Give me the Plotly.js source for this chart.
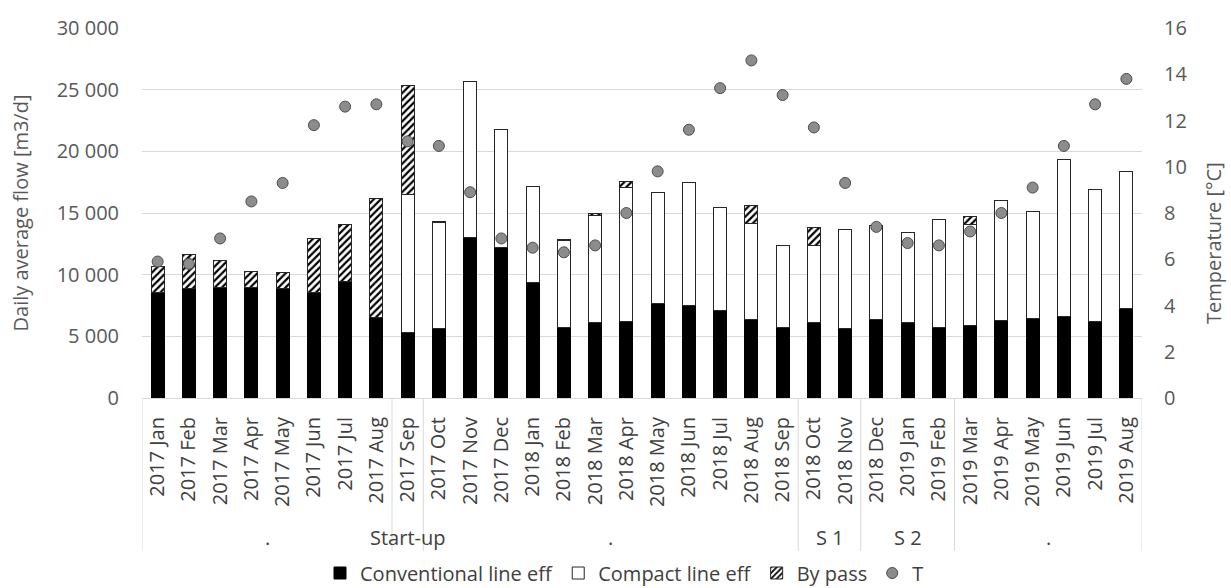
<!DOCTYPE html>
<html>
<head>
<meta charset="utf-8">
<script src="https://cdn.plot.ly/plotly-3.0.1.min.js"></script>
<style>
  html, body { margin: 0; padding: 0; background: #ffffff; }
  #chart { width: 1231px; height: 588px; }
</style>
</head>
<body>
<div id="chart"></div>
<script>
// ---------- DATA ----------
const months = [
  '2017 Jan','2017 Feb','2017 Mar','2017 Apr','2017 May','2017 Jun','2017 Jul','2017 Aug',
  '2017 Sep',
  '2017 Oct','2017 Nov','2017 Dec','2018 Jan','2018 Feb','2018 Mar','2018 Apr','2018 May','2018 Jun','2018 Jul','2018 Aug','2018 Sep',
  '2018 Oct','2018 Nov',
  '2018 Dec','2019 Jan','2019 Feb',
  '2019 Mar','2019 Apr','2019 May','2019 Jun','2019 Jul','2019 Aug'
];
const conventional = [8550, 8850, 9000, 8950, 8900, 8550, 9450, 6500, 5300, 5600, 13050, 12200, 9350, 5750, 6150, 6200, 7700, 7500, 7100, 6400, 5750, 6100, 5600, 6400, 6150, 5750, 5850, 6250, 6450, 6600, 6200, 7250];
const compact = [null, null, null, null, null, null, null, null, 11200, 8600, 12650, 9600, 7800, 7000, 8650, 10900, 9000, 9950, 8350, 7750, 6650, 6300, 8050, 7550, 7300, 8750, 8200, 9800, 8650, 12700, 10700, 11150];
const bypass = [2100, 2750, 2150, 1300, 1300, 4400, 4650, 9650, 8850, 80, null, null, null, 100, 150, 450, null, null, null, 1450, null, 1400, null, null, null, null, 700, null, 60, null, null, null];
const temperature = [5.9, 5.8, 6.9, 8.5, 9.3, 11.8, 12.6, 12.7, 11.1, 10.9, 8.9, 6.9, 6.5, 6.3, 6.6, 8.0, 9.8, 11.6, 13.4, 14.6, 13.1, 11.7, 9.3, 7.4, 6.7, 6.6, 7.2, 8.0, 9.1, 10.9, 12.7, 13.8];
const groupLabels = ['.', 'Start-up', '.', 'S 1', 'S 2', '.'];
const groupSizes = [8, 1, 12, 2, 3, 6];
const leftTicks = [0, 5000, 10000, 15000, 20000, 25000, 30000];
const rightTicks = [0, 2, 4, 6, 8, 10, 12, 14, 16];

// ---------- STYLE ----------
const FONT = 'Open Sans, sans-serif';
const GRID = '#d9d9d9';

const traces = [
  {
    type: 'bar', name: 'Conventional line eff', x: months, y: conventional,
    marker: { color: '#000000', line: { color: '#000000', width: 1 } },
    hoverinfo: 'x+y'
  },
  {
    type: 'bar', name: 'Compact line eff', x: months, y: compact,
    marker: { color: '#ffffff', line: { color: '#262626', width: 1 } },
    hoverinfo: 'x+y'
  },
  {
    type: 'bar', name: 'By pass', x: months, y: bypass,
    marker: {
      color: '#ffffff',
      pattern: { shape: '/', fgcolor: '#000000', bgcolor: '#ffffff', size: 5, solidity: 0.45 },
      line: { color: '#262626', width: 1 }
    },
    hoverinfo: 'x+y'
  },
  {
    type: 'scatter', mode: 'markers', name: 'T', x: months, y: temperature, yaxis: 'y2',
    marker: { color: '#8c8c8c', size: 11, line: { color: '#4d4d4d', width: 1 } },
    hoverinfo: 'x+y'
  }
];

// group separators and group labels, derived from group sizes
const shapes = [];
const annotations = [];
let start = 0;
const sepBottom = (398 - 551) / 370;
shapes.push({ type: 'line', xref: 'x', yref: 'paper', x0: -0.5, x1: -0.5, y0: 0, y1: sepBottom, line: { color: GRID, width: 1 } });
groupLabels.forEach((lab, i) => {
  const end = start + groupSizes[i];
  shapes.push({ type: 'line', xref: 'x', yref: 'paper', x0: end - 0.5, x1: end - 0.5, y0: 0, y1: sepBottom, line: { color: GRID, width: 1 } });
  annotations.push({
    xref: 'x', yref: 'paper', x: (start + end - 1) / 2, y: (398 - 537) / 370,
    text: lab, showarrow: false, xanchor: 'center', yanchor: 'middle',
    font: { family: FONT, size: 20, color: '#404040' }
  });
  start = end;
});
annotations.push({
  xref: 'paper', yref: 'paper', x: (1213 - 142) / 1000, y: (398 - 243) / 370,
  text: 'Temperature [°C]', textangle: -90, showarrow: false,
  xanchor: 'center', yanchor: 'middle',
  font: { family: FONT, size: 20, color: '#595959' }
});

const layout = {
  width: 1231, height: 588,
  margin: { l: 142, r: 89, t: 28, b: 190, pad: 0, autoexpand: false },
  paper_bgcolor: '#ffffff', plot_bgcolor: '#ffffff',
  font: { family: FONT, size: 20, color: '#595959' },
  separators: ', ',
  barmode: 'stack', bargap: 0.58,
  showlegend: true,
  legend: {
    orientation: 'h', x: 0.178, xanchor: 'left', y: (398 - 573) / 370, yanchor: 'middle',
    font: { family: FONT, size: 20, color: '#404040' },
    traceorder: 'normal', itemclick: false
  },
  xaxis: {
    type: 'category', range: [-0.5, months.length - 0.5], autorange: false,
    tickangle: -90, ticks: '', showgrid: false, automargin: false,
    showline: true, linecolor: GRID, linewidth: 1,
    tickfont: { family: FONT, size: 20, color: '#404040' },
    ticklabelstandoff: 10, fixedrange: true
  },
  yaxis: {
    range: [0, 30000], tickvals: leftTicks, tickformat: ',d', automargin: false,
    showgrid: true, gridcolor: GRID, gridwidth: 1, zeroline: false,
    ticks: '', showline: false, ticklabelstandoff: 22,
    tickfont: { family: FONT, size: 20, color: '#595959' },
    title: { text: 'Daily average flow [m3/d]', font: { family: FONT, size: 20, color: '#595959' }, standoff: 22 },
    fixedrange: true
  },
  yaxis2: {
    overlaying: 'y', side: 'right', range: [0, 16], tickvals: rightTicks, automargin: false,
    showgrid: false, zeroline: false, ticks: '', showline: false, ticklabelstandoff: 21,
    tickfont: { family: FONT, size: 20, color: '#595959' },
    fixedrange: true
  },
  shapes: shapes,
  annotations: annotations
};

Plotly.newPlot('chart', traces, layout, { displayModeBar: false, staticPlot: true });
</script>
</body>
</html>
